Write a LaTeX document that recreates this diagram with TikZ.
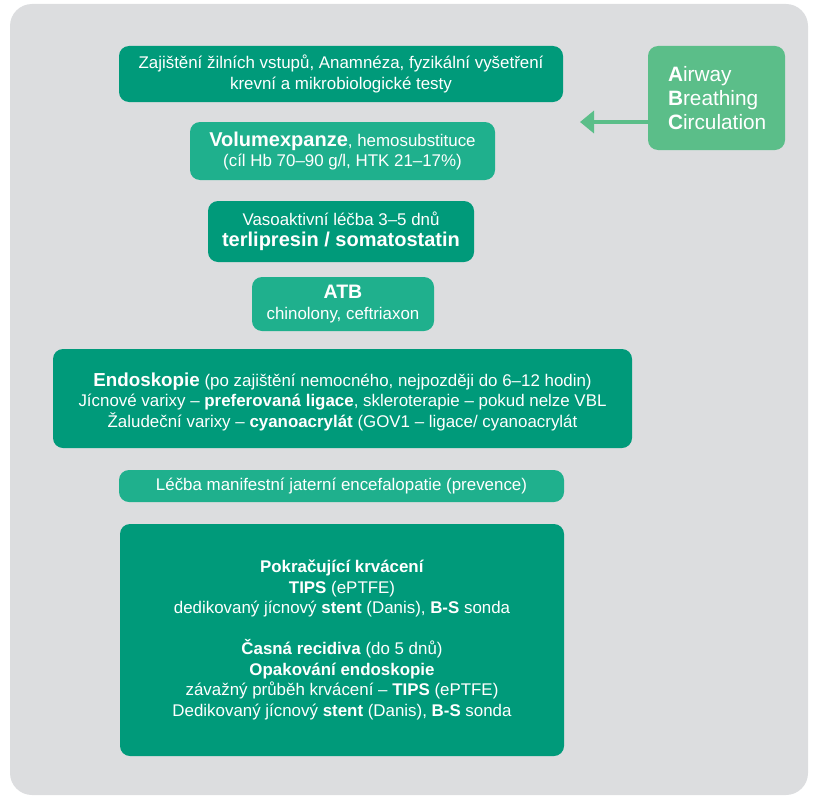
\documentclass[tikz,border=0pt]{standalone}
\usepackage{fontspec}
\setmainfont{Liberation Sans}
\usetikzlibrary{arrows.meta}

\definecolor{darkgreen}{HTML}{009A7A}
\definecolor{lightteal}{HTML}{1FB08D}
\definecolor{abcgreen}{HTML}{5BBE89}
\definecolor{panelgray}{HTML}{DCDDDF}
\newcommand{\bigbold}[2][20]{{\fontsize{#1}{22}\selectfont\bfseries #2}}

\begin{document}
\begin{tikzpicture}[x=1pt, y=-1pt,
        stepbox/.style={rounded corners=10pt, fill=darkgreen, text=white, align=center,
            inner sep=0pt, font=\fontsize{16.9}{20.5}\selectfont},
        lightbox/.style={stepbox, fill=lightteal}]
    \useasboundingbox (0,0) rectangle (818,800);
    \fill[panelgray, rounded corners=22pt] (10,4) rectangle (808,795);

    \node[stepbox, minimum width=444pt, minimum height=56pt] (vstupy) at (341,74)
        {Zajištění žilních vstupů, Anamnéza, fyzikální vyšetření\\krevní a mikrobiologické testy};
    \node[lightbox, minimum width=305pt, minimum height=58pt] (volum) at (342.5,151)
        {\bigbold{Volumexpanze}, hemosubstituce\\(cíl Hb 70–90 g/l, HTK 21–17\%)};
    \node[stepbox, minimum width=266pt, minimum height=61pt] (vaso) at (341,231.5)
        {Vasoaktivní léčba 3–5 dnů\\\bigbold{terlipresin / somatostatin}};
    \node[lightbox, minimum width=182pt, minimum height=54pt] (atb) at (343,304)
        {\bigbold[19.5]{ATB}\\chinolony, ceftriaxon};
    \node[stepbox, minimum width=579pt, minimum height=99pt] (endo) at (342.5,398.5)
        {\rule{0pt}{20pt}\bigbold[18.8]{Endoskopie} (po zajištění nemocného, nejpozději do 6–12 hodin)\\
         Jícnové varixy – \textbf{preferovaná ligace}, skleroterapie – pokud nelze VBL\\
         Žaludeční varixy – \textbf{cyanoacrylát} (GOV1 – ligace/ cyanoacrylát};
    \node[lightbox, minimum width=445pt, minimum height=32pt] (lecba) at (341.5,486)
        {Léčba manifestní jaterní encefalopatie (prevence)};
    \node[stepbox, minimum width=444pt, minimum height=232pt] (krvaceni) at (342,640)
        {\textbf{Pokračující krvácení}\\
         \textbf{TIPS} (ePTFE)\\
         dedikovaný jícnový \textbf{stent} (Danis), \textbf{B-S} sonda\\[20.5pt]
         \textbf{Časná recidiva} (do 5 dnů)\\
         \textbf{Opakování endoskopie}\\
         závažný průběh krvácení – \textbf{TIPS} (ePTFE)\\
         Dedikovaný jícnový \textbf{stent} (Danis), \textbf{B-S} sonda};

    % ABC box with arrow
    \node[stepbox, fill=abcgreen, align=left, inner xsep=20pt, text width=97pt,
        minimum height=104pt, font=\fontsize{20.8}{24}\selectfont] (abc) at (716.5,98)
        {\textbf{A}irway\\\textbf{B}reathing\\\textbf{C}irculation};
    \coordinate (abctip) at (580,122);
    \draw[-{Triangle[length=14pt, width=22pt]}, line width=4pt, abcgreen] (abc.west |- abctip) -- (abctip);
\end{tikzpicture}
\end{document}
